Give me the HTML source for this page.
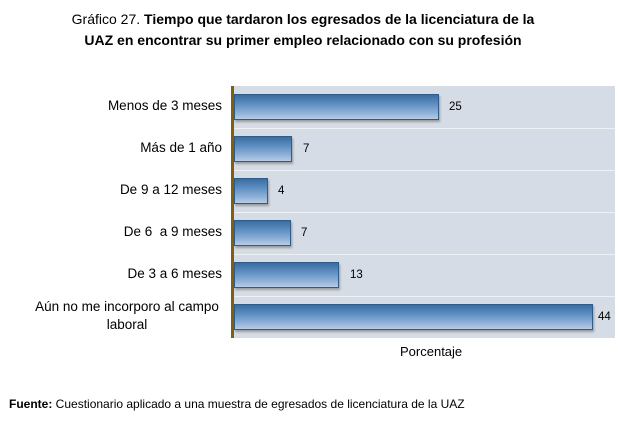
<!DOCTYPE html>
<html><head><meta charset="utf-8"><style>
body{margin:0;width:618px;height:423px;background:#fff;font-family:"Liberation Sans",Arial,sans-serif;position:relative;overflow:hidden}
.t{position:absolute;left:0;width:606px;text-align:center;font-size:14px;color:#000}
.plot{position:absolute;left:232px;top:86px;width:383px;height:252px;background:#d6dce5}
.sep{position:absolute;left:0;width:383px;height:1px;background:#eef1f5}
.ax{position:absolute;left:231px;top:86px;width:3px;height:252px;background:#7f6010}
.bar{position:absolute;left:234px;height:26px;border:1px solid #2d5b8a;box-sizing:border-box;
background:linear-gradient(#3b6da0 0%,#5b8cc0 35%,#8fb1d8 75%,#b7cce6 100%);box-shadow:1px 2px 2px rgba(80,80,80,.45)}
.v{position:absolute;font-size:11.5px;color:#000}
.l{position:absolute;right:396px;font-size:13.5px;text-align:right;color:#000;line-height:18px}
</style></head><body>
<div class="t" style="top:11px">Gráfico 27. <b>Tiempo que tardaron los egresados de la licenciatura de la</b></div>
<div class="t" style="top:32px"><b>UAZ en encontrar su primer empleo relacionado con su profesión</b></div>
<div class="plot">
<div class="sep" style="top:42px"></div><div class="sep" style="top:84px"></div><div class="sep" style="top:126px"></div><div class="sep" style="top:168px"></div><div class="sep" style="top:210px"></div>
</div>
<div class="ax"></div>
<div class="bar" style="top:94px;width:205px"></div><div class="v" style="left:449px;top:101px">25</div>
<div class="bar" style="top:136px;width:58px"></div><div class="v" style="left:303px;top:143px">7</div>
<div class="bar" style="top:178px;width:34px"></div><div class="v" style="left:278px;top:185px">4</div>
<div class="bar" style="top:220px;width:57px"></div><div class="v" style="left:301px;top:227px">7</div>
<div class="bar" style="top:262px;width:105px"></div><div class="v" style="left:350px;top:269px">13</div>
<div class="bar" style="top:304px;width:359px"></div><div class="v" style="left:598px;top:311px">44</div>
<div class="l" style="top:97px">Menos de 3 meses</div>
<div class="l" style="top:139px">Más de 1 año</div>
<div class="l" style="top:181px">De 9 a 12 meses</div>
<div class="l" style="top:223px">De 6&nbsp; a 9 meses</div>
<div class="l" style="top:265px">De 3 a 6 meses</div>
<div class="l" style="top:298px;width:210px;text-align:center;right:386px">Aún no me incorporo al campo<br>laboral</div>
<div style="position:absolute;left:400px;top:344px;font-size:13px">Porcentaje</div>
<div style="position:absolute;left:9px;top:397px;font-size:12px"><b>Fuente:</b> Cuestionario aplicado a una muestra de egresados de licenciatura de la UAZ</div>
</body></html>
